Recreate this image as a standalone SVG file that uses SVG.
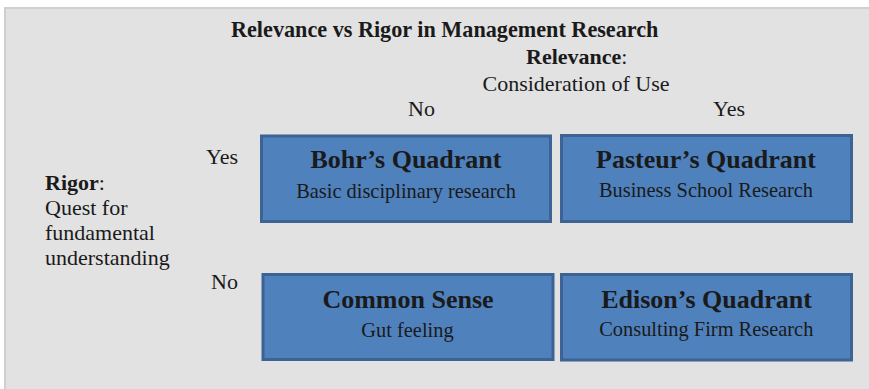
<svg xmlns="http://www.w3.org/2000/svg" width="869" height="389" viewBox="0 0 869 389">
  <style>
    text { font-family: "Liberation Serif", "Times New Roman", serif; fill: #1a1a1a; }
    .title { font-size: 22.2px; font-weight: bold; }
    .lbl { font-size: 22px; }
    .b { font-weight: bold; }
    .qt { font-size: 26px; font-weight: bold; text-anchor: middle; }
    .qs { font-size: 20.4px; text-anchor: middle; }
    .box { fill: #4f81bd; stroke: #3c6393; stroke-width: 3; }
  </style>

  <!-- panel background -->
  <rect x="0" y="0" width="869" height="389" fill="#ffffff"/>
  <rect x="4" y="7" width="865" height="382" fill="#e2e2e2"/>
  <rect x="4" y="7" width="865" height="2" fill="#cfcfcf"/>
  <rect x="4" y="7" width="2" height="382" fill="#cfcfcf"/>

  <!-- headings and axis labels -->
  <g id="heading">
    <text class="title" x="231" y="37">Relevance vs Rigor in Management Research</text>
  </g>
  <g id="relevance-axis">
    <text class="lbl" x="526" y="64"><tspan class="b">Relevance</tspan>:</text>
    <text class="lbl" x="482.5" y="91">Consideration of Use</text>
    <text class="lbl" x="408" y="116">No</text>
    <text class="lbl" x="713" y="116">Yes</text>
  </g>
  <g id="rigor-axis">
    <text class="lbl" x="45" y="189.5"><tspan class="b">Rigor</tspan>:</text>
    <text class="lbl" x="45" y="214.5">Quest for</text>
    <text class="lbl" x="45" y="240">fundamental</text>
    <text class="lbl" x="45" y="265">understanding</text>
    <text class="lbl" x="238" y="164" text-anchor="end">Yes</text>
    <text class="lbl" x="238" y="289" text-anchor="end">No</text>
  </g>

  <!-- quadrants -->
  <g id="bohr">
    <rect class="box" x="261.5" y="136" width="289" height="85.5"/>
    <text class="qt" x="406" y="168.3">Bohr’s Quadrant</text>
    <text class="qs" x="406" y="197.5">Basic disciplinary research</text>
  </g>
  <g id="pasteur">
    <rect class="box" x="561.5" y="135.5" width="290" height="86"/>
    <text class="qt" x="706" y="168.3">Pasteur’s Quadrant</text>
    <text class="qs" x="706" y="196.7">Business School Research</text>
  </g>
  <g id="common-sense">
    <rect class="box" x="263" y="274.5" width="290" height="85"/>
    <text class="qt" x="408" y="308.3">Common Sense</text>
    <text class="qs" x="407.5" y="336.5">Gut feeling</text>
  </g>
  <g id="edison">
    <rect class="box" x="561.5" y="274.5" width="290" height="85.5"/>
    <text class="qt" x="706.5" y="308.3">Edison’s Quadrant</text>
    <text class="qs" x="706.3" y="336">Consulting Firm Research</text>
  </g>
</svg>
